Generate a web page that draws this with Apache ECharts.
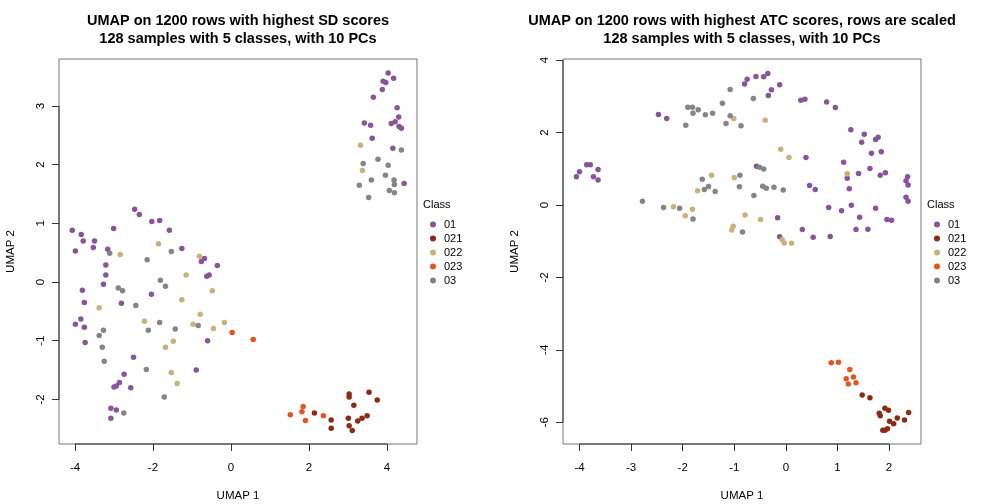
<!DOCTYPE html>
<html><head><meta charset="utf-8">
<script src="https://cdn.jsdelivr.net/npm/echarts@6/dist/echarts.min.js"></script>
<style>html,body{margin:0;padding:0;background:#fff}#c{width:1008px;height:504px}</style>
</head><body><div id="c"></div>
<script>
const classes = ['01','021','022','023','03'];
const classColors = ['#88559a','#8c2a14','#c8b27c','#e4561f','#858585'];

const titleSD = 'UMAP on 1200 rows with highest SD scores\n128 samples with 5 classes, with 10 PCs';
const titleATC = 'UMAP on 1200 rows with highest ATC scores, rows are scaled\n128 samples with 5 classes, with 10 PCs';

const sdXTicks = [-4,-2,0,2,4];
const sdYTicks = [-2,-1,0,1,2,3];
const atcXTicks = [-4,-3,-2,-1,0,1,2];
const atcYTicks = [-6,-4,-2,0,2,4];

const sd01 = [[4.03,3.56],[4.17,3.47],[3.90,3.42],[3.97,3.40],[3.88,3.28],[3.65,3.15],[4.26,2.97],[4.30,2.81],[3.42,2.71],[3.58,2.67],[4.11,2.70],[4.21,2.73],[4.31,2.65],[4.37,2.62],[3.62,2.45],[4.15,2.28],[4.44,1.68],
[-2.47,1.24],[-2.35,1.15],[-2.03,1.03],[-1.83,1.05],[-1.58,0.88],[-3.01,0.91],[-4.07,0.88],[-3.84,0.81],[-3.79,0.70],[-3.50,0.70],[-3.53,0.59],[-3.99,0.53],[-3.16,0.56],[-1.26,0.57],[-0.76,0.35],[-0.68,0.40],[-0.35,0.28],[-0.62,0.10],[-0.56,0.12],[-3.21,0.29],[-3.21,0.12],[-3.27,-0.04],[-3.81,-0.14],[-3.76,-0.35],[-2.81,-0.36],[-2.04,-0.21],[-3.85,-0.63],[-3.99,-0.72],[-3.76,-0.77],[-3.74,-1.03],[-0.60,-1.00],[-2.50,-1.28],[-2.74,-1.57],[-2.86,-1.71],[-2.94,-1.77],[-3.00,-1.79],[-2.57,-1.80],[-0.89,-1.50],[-3.08,-2.15],[-2.94,-2.18],[-3.08,-2.32]];
const sd021 = [[2.14,-2.23],[2.57,-2.35],[2.57,-2.49],[3.03,-1.91],[3.03,-1.96],[3.54,-1.88],[3.75,-2.01],[3.15,-2.10],[3.01,-2.32],[3.03,-2.45],[3.11,-2.53],[3.25,-2.37],[3.36,-2.32],[3.49,-2.28]];
const sd022 = [[3.32,2.33],[3.37,1.90],[-1.86,0.65],[-2.84,0.47],[-0.81,0.44],[-1.15,0.12],[-0.48,-0.15],[-1.26,-0.30],[-3.38,-0.44],[-0.79,-0.55],[-2.22,-0.67],[-0.97,-0.72],[-0.45,-0.79],[-0.17,-0.69],[-1.48,-1.01],[-1.68,-1.11],[-1.53,-1.54],[-1.38,-1.73]];
const sd023 = [[0.03,-0.86],[0.57,-0.98],[1.85,-2.12],[1.82,-2.21],[1.52,-2.26],[1.91,-2.36],[2.37,-2.28]];
const sd03 = [[4.37,2.25],[3.39,2.02],[3.77,2.09],[4.03,1.99],[3.96,1.82],[4.18,1.74],[4.19,1.66],[3.60,1.74],[3.29,1.65],[4.06,1.56],[4.19,1.52],[3.53,1.44],
[-3.11,0.49],[-1.53,0.52],[-2.15,0.38],[-1.81,0.03],[-1.68,-0.07],[-2.89,-0.10],[-2.78,-0.15],[-2.44,-0.40],[-1.83,-0.69],[-1.43,-0.80],[-2.12,-0.82],[-0.84,-0.74],[-3.27,-0.82],[-3.38,-0.91],[-3.30,-1.11],[-3.25,-1.35],[-2.17,-1.49],[-1.71,-1.96],[-2.75,-2.23]];

const atc01 = [[-3.86,1.11],[-3.79,1.11],[-4.00,0.92],[-3.64,0.98],[-4.06,0.78],[-3.73,0.78],[-3.64,0.69],
[-2.47,2.50],[-2.31,2.39],[-0.80,3.34],[-0.75,3.47],[-0.58,3.55],[-0.43,3.54],[-0.35,3.63],[-0.12,3.32],[-0.28,3.18],[-0.34,3.02],[0.29,2.89],[0.37,2.92],[0.79,2.84],[0.96,2.69],[1.26,2.08],[1.52,1.95],[1.47,1.73],[1.74,1.81],[1.79,1.87],[1.66,1.43],[1.85,1.47],[0.39,1.31],[-0.57,1.07],[1.12,1.18],[1.41,0.87],[1.63,1.01],[1.19,0.74],[1.83,0.82],[1.93,0.89],[1.23,0.45],[0.46,0.54],[0.57,0.43],[2.36,0.78],[2.33,0.67],[2.37,0.55],[2.33,0.21],[2.37,0.10],[0.83,-0.07],[1.27,-0.01],[1.08,-0.16],[1.74,-0.09],[1.43,-0.34],[-0.16,-0.35],[1.96,-0.40],[2.05,-0.42],[0.32,-0.68],[1.36,-0.68],[1.59,-0.67],[-0.12,-0.88],[0.53,-0.89],[0.86,-0.87]];
const atc021 = [[1.48,-5.25],[1.63,-5.32],[1.92,-5.61],[1.99,-5.67],[1.81,-5.75],[1.83,-5.82],[2.38,-5.73],[2.16,-5.88],[2.01,-5.97],[2.09,-6.04],[2.30,-5.94],[1.88,-6.22],[1.97,-6.18],[1.92,-6.22]];
const atc022 = [[-1.01,2.39],[-0.40,2.34],[-0.10,1.54],[0.06,1.31],[-1.44,0.82],[-1.00,0.75],[1.19,0.86],[-1.71,0.39],[-2.18,-0.05],[-1.81,-0.12],[-1.95,-0.30],[-0.79,-0.28],[-0.49,-0.40],[-1.02,-0.59],[-1.05,-0.69],[-0.07,-0.96],[-0.03,-1.05],[0.11,-1.06]];
const atc023 = [[0.88,-4.36],[1.02,-4.34],[1.24,-4.54],[1.17,-4.80],[1.31,-4.75],[1.36,-4.91],[1.21,-4.94]];
const atc03 = [[-2.78,0.10],[-1.08,3.19],[-0.63,2.94],[-1.23,2.81],[-1.90,2.70],[-1.81,2.70],[-1.70,2.63],[-1.80,2.53],[-1.56,2.49],[-1.42,2.53],[-1.08,2.46],[-1.16,2.25],[-0.87,2.19],[-1.94,2.20],[-0.51,1.04],[-0.43,0.99],[-1.62,0.71],[-0.89,0.82],[-1.50,0.51],[-1.58,0.43],[-1.37,0.37],[-0.90,0.50],[-0.45,0.52],[-0.38,0.46],[-0.23,0.49],[-0.05,0.41],[-0.62,0.26],[-2.37,-0.07],[-2.06,-0.09],[-1.80,-0.39],[-0.84,-0.75]];

const sdRange = {xmin:-4.41, xmax:4.77, ymin:-2.76, ymax:3.80};
const atcRange = {xmin:-4.32, xmax:2.62, ymin:-6.60, ymax:4.03};

const FONT = 'Liberation Sans';
const chart = echarts.init(document.getElementById('c'), null, {renderer:'canvas'});

function xAxisFor(gi, r, ticks){
  return {gridIndex:gi, type:'value', min:r.xmin, max:r.xmax, position:'bottom',
    name:'UMAP 1', nameLocation:'middle', nameGap:46,
    nameTextStyle:{fontFamily:FONT, fontSize:11.5, color:'#000'},
    splitLine:{show:false}, axisLine:{show:false, onZero:false},
    axisTick:{show:true, inside:false, length:7, customValues:ticks, lineStyle:{color:'#333'}},
    axisLabel:{customValues:ticks, margin:18, fontFamily:FONT, fontSize:11.5, color:'#000'}};
}
function yAxisFor(gi, r, ticks){
  return {gridIndex:gi, type:'value', min:r.ymin, max:r.ymax, position:'left',
    name:'UMAP 2', nameLocation:'middle', nameGap:42, nameRotate:90,
    nameTextStyle:{fontFamily:FONT, fontSize:11.5, color:'#000'},
    splitLine:{show:false}, axisLine:{show:false, onZero:false},
    axisTick:{show:true, inside:false, length:7, customValues:ticks, lineStyle:{color:'#333'}},
    axisLabel:{customValues:ticks, rotate:90, margin:12, fontFamily:FONT, fontSize:11.5, color:'#000'}};
}
function axisLines(gi, r, xt, yt){
  const st = {type:'line', xAxisIndex:gi, yAxisIndex:gi, silent:true, symbol:'none', clip:false,
    lineStyle:{color:'#333', width:1}, z:3, legendHoverLink:false, tooltip:{show:false}};
  return [
    Object.assign({}, st, {id:'xl'+gi, data:[[xt[0], r.ymin],[xt[xt.length-1], r.ymin]]}),
    Object.assign({}, st, {id:'yl'+gi, data:[[r.xmin, yt[0]],[r.xmin, yt[yt.length-1]]]})
  ];
}
function scatterFor(gi, sets){
  return sets.map((d,i)=>({type:'scatter', name:classes[i], xAxisIndex:gi, yAxisIndex:gi,
    data:d, symbol:'circle', symbolSize:5.5, itemStyle:{color:classColors[i], opacity:1}, z:4}));
}
function legendFor(left){
  return {orient:'vertical', left:left, top:214, itemWidth:6, itemHeight:6, itemGap:3,
    icon:'circle', data:classes, selectedMode:false,
    textStyle:{fontFamily:FONT, fontSize:11, color:'#000', padding:[0,0,0,3], lineHeight:11}};
}

const series = [].concat(
  scatterFor(0, [sd01, sd021, sd022, sd023, sd03]),
  scatterFor(1, [atc01, atc021, atc022, atc023, atc03]),
  axisLines(0, sdRange, sdXTicks, sdYTicks),
  axisLines(1, atcRange, atcXTicks, atcYTicks)
);

chart.setOption({
  animation:false,
  backgroundColor:'#fff',
  grid:[
    {left:59, top:59, width:358, height:385, outerBoundsMode:'none', containLabel:false, show:true, borderColor:'#777', borderWidth:1, backgroundColor:'transparent'},
    {left:563, top:59, width:358, height:385, outerBoundsMode:'none', containLabel:false, show:true, borderColor:'#777', borderWidth:1, backgroundColor:'transparent'}
  ],
  xAxis:[xAxisFor(0, sdRange, sdXTicks), xAxisFor(1, atcRange, atcXTicks)],
  yAxis:[yAxisFor(0, sdRange, sdYTicks), yAxisFor(1, atcRange, atcYTicks)],
  legend:[legendFor(425), legendFor(929)],
  graphic:[
    {type:'text', x:238, y:30, style:{text:titleSD, font:'bold 14.5px "Liberation Sans"', fill:'#000', textAlign:'center', textVerticalAlign:'middle', lineHeight:17.5}},
    {type:'text', x:742, y:30, style:{text:titleATC, font:'bold 14.5px "Liberation Sans"', fill:'#000', textAlign:'center', textVerticalAlign:'middle', lineHeight:17.5}},
    {type:'text', x:423, y:205, style:{text:'Class', font:'11px "Liberation Sans"', fill:'#000', textVerticalAlign:'middle'}},
    {type:'text', x:927, y:205, style:{text:'Class', font:'11px "Liberation Sans"', fill:'#000', textVerticalAlign:'middle'}}
  ],
  series:series
});
</script></body></html>
